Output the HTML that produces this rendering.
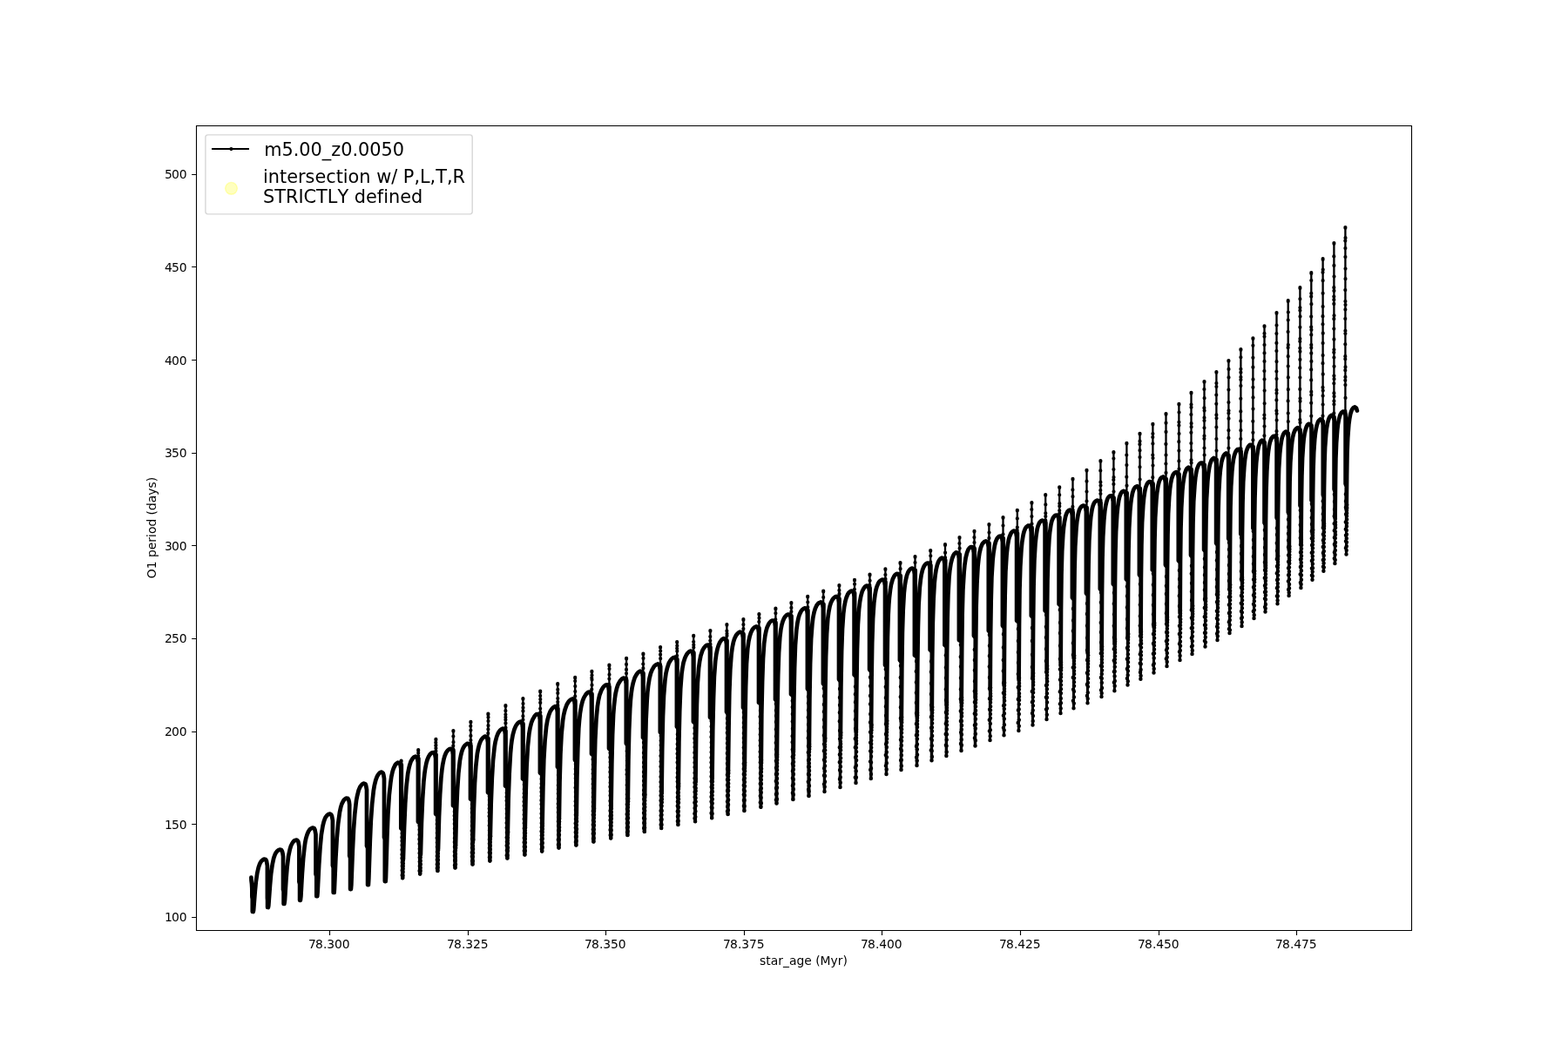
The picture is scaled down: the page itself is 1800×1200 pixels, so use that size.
<!DOCTYPE html>
<html lang="en"><head><meta charset="utf-8"><title>O1 period vs star_age</title>
<style>html,body{margin:0;padding:0;background:#fff;width:1800px;height:1200px;overflow:hidden}svg{display:block}</style>
</head><body>
<svg width="1800" height="1200" viewBox="0 0 1800 1200" role="img" aria-label="O1 period (days) versus star_age (Myr)">
<rect width="1800" height="1200" fill="#fff"/>
<g fill="none" stroke="#000" stroke-linejoin="round" stroke-linecap="round">
<path stroke-width="2.3" d="M460.6 881.5L460.6 873.6M480.2 874.6L480.2 861.1M500.4 869.9L500.4 848.9M520.4 865.6L520.4 839M540.4 859.6L540.4 828.9M560.4 851.5L560.4 819.6M580.4 842.5L580.4 810.1M600.4 834.6L600.4 802M620.2 825.6L620.2 793.6M640.2 817.1L640.2 785.1M660.2 808.4L660.2 777.9M679.4 800.3L679.4 770.9M699.4 792.1L699.4 763.6M719.1 784.4L719.1 755.9M738.4 776.5L738.4 750.6M758.1 768.4L758.1 743M777.2 760.6L777.2 737M796.2 753.4L796.2 729.9M815.4 746.5L815.4 724M834.4 739L834.4 717M853.4 731.5L853.4 711.1M871.4 725.3L871.4 705M890.4 718.3L890.4 698.6M908.4 711.3L908.4 692M927.2 704.3L927.2 684.9M945.2 697.4L945.2 678.6M963.4 690.9L963.4 672M981 684.4L981 665.8M998.5 678.4L998.5 659.6M1016.4 671.5L1016.4 653.3M1033.5 664.6L1033.5 646.1M1050.5 658.4L1050.5 639M1068.2 652.4L1068.2 632M1085 646.5L1085 625.2M1101.5 640.1L1101.5 617M1118.5 633.8L1118.5 609.9M1135.4 627.4L1135.4 602M1151.5 621.5L1151.5 594M1167.8 615.5L1167.8 585.8M1184.4 609.4L1184.4 577M1200.2 603.4L1200.2 568M1216.2 597.5L1216.2 559.3M1231.5 591.5L1231.5 549.9M1247.5 586.5L1247.5 539.9M1263.4 580.5L1263.4 529M1278.4 575L1278.4 519M1293.4 569.6L1293.4 508.9M1308.5 564.3L1308.5 497.8M1323.4 558.9L1323.4 486.8M1338.5 553.5L1338.5 475.1M1353.4 548.1L1353.4 463.9M1367.5 542.7L1367.5 450.9M1382.5 537.3L1382.5 438M1396.4 531.9L1396.4 427M1410.4 526.5L1410.4 414M1424.4 521.5L1424.4 401.1M1438.4 516.5L1438.4 388.3M1451.5 511.5L1451.5 374.3M1465.5 506.5L1465.5 359.1M1478.7 501.5L1478.7 345.2M1492.4 497.1L1492.4 330.2M1505.3 492.4L1505.3 313.2M1518.6 487.3L1518.6 297.2M1531.4 482.6L1531.4 279.1M1544.4 478.4L1544.4 261"/>
<path stroke-width="4.7" d="M288.4 1007.6L288.5 1011L289 1015L289.3 1020L289.4 1030M289.4 1030L289.8 1032.5L289.8 1047L290.7 1047M290.7 1047L291.1 1045L292.8 1023.3L293.8 1012.7L295.3 1002.5L296.7 996.3L298 992.5L298.8 990.7L299.9 989L301.4 987.6L303.1 986.6L305.1 987.1L306 988.9L306.9 994.2L306.9 1031.3L307.3 1032.8M306.9 1031.3L307.1 1033.8L307.1 1042L307.9 1042M307.9 1042L308.3 1039.8L310 1016.4L311.1 1003.7L312.6 993.1L314.3 985.1L315.7 981.3L316.6 979.4L317.8 977.8L319.3 976.4L321.1 975.6L323.1 976.1L324 977.9L324.5 979.8L325 983.3L325 1021.3L325.8 1022.8M325 1021.3L325.6 1023.8L325.6 1038L326.4 1038M326.4 1038L327 1033.7L328.4 1010.9L329.6 995.9L331.1 983.3L332.8 975.2L334 971.3L335.8 967.8L337 966.2L338.6 965L340.6 964.5L342.1 965.9L342.7 967.8L343.4 972.2L343.4 1012.6L344.3 1014.1M343.4 1012.6L344.1 1015.1L344.1 1033.8L344.9 1033.8M344.9 1033.8L345.4 1029.5L346.9 1002.8L348.2 985.2L349.6 972.3L350.5 966.2L351.4 962.1L352.6 958.2L354.2 954.5L355.4 952.8L356.8 951.5L358.7 950.6L360.6 951.1L361.5 952.9L362.5 958.3L362.5 1003.8L363.6 1005.3M362.5 1003.8L363.3 1006.3L363.3 1029.2L364.2 1029.2M364.2 1029.2L364.6 1024.8L366.2 993L367.5 973.4L368.9 958.4L370.6 948.1L371.6 944.1L372.9 940.2L373.8 938.4L375 936.8L376.5 935.4L378.3 934.5L380.2 935.3L381 937.2L381.9 942.2L381.9 993.8L382.9 995.3M381.9 993.8L382.7 996.3L382.7 1025L383.6 1025M383.6 1025L383.9 1020.9L385.4 985.3L386.7 962.8L388.2 945.6L389.9 933.1L391.2 926.9L392.4 923.1L394.3 919.4L395.6 917.9L397.3 916.7L399.3 916.9L400.3 918.7L400.8 920.8L401.2 924L401.2 982.6L402.3 984.1M401.2 982.6L402.1 985.1L402.1 1021.1L402.9 1021.1M402.9 1021L403.3 1016.3L404.8 976.9L406 952.1L407.3 934.4L409 919.4L410.2 913.3L411.7 907.4L413.3 903.7L414.5 902L415.8 900.5L417.6 899.5L419.5 900.4L420.2 902.3L421 907L421 971.3L422.3 972.8M421 971.3L422.1 973.8L422.1 1016.1L422.9 1016.1M422.9 1016L423.3 1009.4L424.8 965.5L425.8 942.7L427.2 922.9L428.8 908L429.8 902L431.3 895.9L432.7 892.1L433.6 890.3L434.8 888.6L436.2 887.2L438.1 886.5L439.7 887.8L440.3 889.7L441 894L441 961.3L442.1 962.8M441 961.3L441.8 963.8L441.8 1012.1L442.7 1012.1M442.7 1012L443 1007L444.4 960.4L445.4 935.2L446.8 913L448.4 898.3L449.3 892L450.6 886L451.9 882.1L453.7 878.4L455 876.9L456.7 875.7L458.6 876.1L459.5 878L460.3 882.7L460.3 951.3L462.1 952.8M460.8 878L460.8 951.3M462.9 987L464 951.2L465.2 923.1L466.5 903.2L468.2 888.3L469.4 882.1L470.4 878.2L471.7 874.3L472.7 872.6L473.8 870.9L475.2 869.5L477.1 868.7L478.7 869.9L479.3 871.8L479.9 875.7L479.9 943.8L482.1 945.3M480.4 871.1L480.4 943.8M482.9 981.2L483.9 945.1L485.1 917.3L486.4 897.5L487.3 888.9L488.2 882.5L489.4 876.4L490.5 872.5L492.1 868.7L493.2 866.9L494.5 865.4L496.1 864.3L498.1 864.1L499.2 865.9L500.1 870.9L500.1 934.8L502.2 936.3M500.5 866.4L500.6 934.8M503 974.9L504 938.6L505.1 912.9L506.4 893L507.3 884.4L508.2 878.1L509.4 872.1L510.5 868.2L512 864.5L513.1 862.8L514.4 861.3L516 860.1L518 859.8L519.2 861.4L519.6 863.4L520 866.5L520 925.1L522.3 926.6M520.5 862.1L520.6 925.1M523 971.6L523.9 934.4L525 908.2L526.3 888.3L527.9 873.7L529 867.6L530 863.6L531.3 859.8L532.3 857.9L533.4 856.3L534.9 854.9L536.6 853.8L538.6 854.2L539.4 856.2L540 860.5L540 917.6L542.3 919.1M540.5 856.1L540.6 917.6M543 965.9L543.9 928.9L545 899.7L546.3 879.9L547.9 865.3L549.1 859.3L550.1 855.3L551.5 851.5L552.4 849.7L553.6 848.1L555 846.7L556.8 845.6L558.7 846.2L559.4 848.1L560 852.3L560 910.1L562.2 911.6M560.5 848L560.6 910.1M562.8 961.4L563.7 922.6L564.8 893.6L566 873.2L567.6 858.4L568.6 852.1L570.2 846L571.7 842.2L572.7 840.4L573.9 838.8L575.4 837.5L577.2 836.5L578.9 837.5L579.5 839.6L580 843.3L580 902.6L582.2 904.1M580.5 839L580.6 902.6M582.8 957.7L583.6 918.3L584.7 887.8L586 865L586.8 856.2L587.6 850L588.7 843.9L590.3 838L591.9 834.2L592.9 832.4L594.1 830.8L595.6 829.5L597.5 828.7L599 829.9L599.6 832L600 835.4L600 894.4L602.2 895.9M600.5 831.1L600.6 894.4M602.8 949.5L603.7 908.5L604.6 879.8L605.9 857.1L607.4 842.3L608.5 836L610 830L611.4 826.3L613.4 822.8L614.7 821.2L616.3 820L618.4 820L619.2 821.9L619.9 826.3L619.9 887.6L622 889.1M620.4 822.1L620.5 887.6M622.6 946.6L623.4 903.7L624.3 872.3L625.6 849.9L627.1 834.9L628.5 826.7L630.1 820.8L631.6 817L632.7 815.3L633.9 813.6L635.3 812.2L637 811.2L638.8 812.2L639.4 814.2L639.9 817.8L639.9 880.7L641.3 882.2M640.4 813.6L640.5 880.7M641.9 940.5L642.5 898.6L643.4 865.9L644.6 842.7L646.1 827.4L647.1 821L648.5 815.1L650.6 809.3L652.7 805.8L654 804.3L655.6 803.1L657.5 802.4L658.9 803.9L659.5 805.9L659.9 809.1L659.9 872.6L661.2 874.1M660.4 804.9L660.5 872.6M661.8 936.7L662.4 892.3L663.3 859.1L664.3 836.4L665 827.7L665.9 819.2L667.3 810.8L668.8 804.9L670.3 801.1L672.4 797.6L673.7 796.1L675.3 794.8L677.3 794.5L678.3 796.3L679 800.9L679 865.7L681.2 867.2M679.5 796.8L679.6 865.7M681.8 931.1L682.5 881.8L683.3 849.1L684.5 825.9L685.9 810.8L686.9 804.5L688.2 798.4L690.3 792.8L692.4 789.3L693.7 787.8L695.3 786.6L697.3 786.4L698.3 788.2L699 792.8L699 859.5L701 861M699.5 788.6L699.6 859.5M701.6 925.7L702.3 877.9L703.1 843.9L704.1 820.6L704.8 811.6L705.7 802.9L706.6 796.6L708 790.5L709.3 786.6L710.2 784.7L712.3 781.3L713.7 779.8L715.4 778.7L717.3 778.9L718.1 780.9L718.8 785L718.8 853.8L720.2 855.3M719.2 780.9L719.3 853.8M720.8 920.5L721.4 872.6L722.2 838L723.2 814.1L723.8 805L724.6 796.6L725.5 790.3L726.8 784.2L728.6 778.4L730.5 774.8L731.7 773.1L733.1 771.7L734.8 770.7L736.8 771.3L737.5 773.2L738 777.2L738 846.9L739.5 848.4M738.5 773L738.6 846.9M740.1 914.5L740.8 864.7L741.6 827.5L742.7 804.3L743.3 795.6L744.2 787.3L745.5 779.1L747 773.1L748.5 769.3L750.5 765.8L751.8 764.3L753.4 763.1L755.3 762.4L756.8 763.8L757.3 765.9L757.8 769.2L757.8 840.7L759 842.2M758.2 764.9L758.3 840.7M759.6 909.7L760.2 860.6L761 822.7L762 798.7L763.4 781.5L764.5 773.3L765.9 767.2L767.8 761.5L769.9 758L771.2 756.5L772.8 755.2L774.7 754.7L776 756.2L776.5 758.3L776.9 761.4L776.9 834.4L778.2 835.9M777.4 757.1L777.5 834.4M778.8 904.6L779.4 852.5L780.2 816.7L781.2 790.8L782.5 773.7L783.4 767.4L784.5 761.3L786.3 755.5L788.1 751.8L789.2 750.2L790.6 748.8L792.3 747.7L794.4 747.8L795.2 749.7L795.9 754.2L795.9 828.8L797.9 830.3M796.4 749.9L796.5 828.8M798.5 897.5L799.1 847.8L799.9 809.3L800.8 784.8L802.1 767.3L803.2 759.2L804.4 753L806.3 747.2L808.3 743.7L809.6 742.2L811.3 740.9L813.3 740.7L814.3 742.5L815 747.2L815 823.8L817 825.3M815.5 743L815.6 823.8M817.6 892.2L818.2 839.5L819 803.1L819.9 776.7L821.2 759.3L822.3 751.2L823.6 745.1L824.8 741.1L826.4 737.5L827.6 735.8L828.9 734.3L830.6 733.2L832.6 733.6L833.4 735.4L834 739.8L834 817.6L835.4 819.1M834.5 735.5L834.6 817.6M835.9 888L836.6 833.6L837.3 795L838.3 769L839.6 751.6L840.7 743.3L842 737.1L843.2 733.2L845 729.6L846.3 728L847.7 726.6L849.5 725.7L851.5 726L852.3 727.9L853 732.5L853 812.6L854.2 814.1M853.5 728L853.6 812.6M854.8 881.2L855.4 826.1L856.1 788.6L857 762.4L858.3 744.7L859.4 736.5L860.7 730.6L861.9 726.7L863.7 723L864.9 721.5L866.4 720.1L868.3 719.3L869.9 720.5L870.5 722.5L871 726.2L871 806.9L873.2 808.4M871.5 721.8L871.6 806.9M873.8 875.4L874.3 821.1L875.1 782.4L876 756.3L877.2 738.7L878.3 730.3L879.5 724.3L880.6 720.4L882.3 716.7L883.4 715L884.8 713.5L886.5 712.5L888.5 712.8L889.4 714.7L890 719.2L890 803.2L891.3 804.7M890.5 714.8L890.6 803.2M891.9 869.7L892.4 814.3L893.2 775.4L894.1 749.3L895.3 731.8L896.3 723.4L897.5 717.4L898.6 713.5L900.2 709.8L901.3 708.1L902.7 706.6L904.4 705.6L906.4 705.7L907.3 707.5L908 712.2L908 797.2L910.2 798.7M908.5 707.8L908.6 797.2M910.8 863.6L911.3 807.2L912.1 767L913 741L914.3 723.6L915.4 715.5L916.6 709.5L917.8 705.6L919.6 701.9L920.8 700.3L922.4 699L924.3 698.3L925.8 699.6L926.4 701.5L926.9 705.2L926.9 791.1L928.3 792.6M927.4 700.8L927.5 791.1M928.9 858L929.4 802.6L930.1 762.3L931.1 734.1L932.4 716.8L933.4 708.7L934.7 702.6L935.9 698.7L937.6 695L938.9 693.4L940.4 692.1L942.3 691.4L943.8 692.7L944.4 694.6L944.9 698.3L944.9 785.1L946.3 786.6M945.4 693.9L945.5 785.1M946.9 851L947.4 794.6L948.1 754.3L949.1 727.7L950.3 710.3L951.4 702.2L952.6 696.1L953.8 692.2L955.6 688.6L956.8 687L958.3 685.7L960.1 684.9L961.9 686L962.5 687.9L963 691.9L963 780.1L964.3 781.6M963.5 687.4L963.6 780.1M964.9 845.6L965.4 788.8L966.1 748.4L967 722.4L968.2 704.8L969.2 696.5L970.4 690.5L971.5 686.5L973 682.8L974.1 681L975.5 679.6L977.3 678.6L979.2 679L980 681L980.6 685.3L980.6 775.1L982.3 776.6M981.1 680.9L981.2 775.1M982.8 840.3L983.4 783.5L984 745.4L984.9 717.1L986.1 699.4L987.1 691L988.2 684.8L989.8 679L991.7 675.4L993 673.8L994.6 672.7L996.6 672.9L997.4 674.8L998.1 679.3L998.1 768.8L999.5 770.3M998.6 674.9L998.7 768.8M1000.1 835.3L1000.6 777.3L1001.2 738.6L1002.1 710L1003.3 692.3L1004.4 683.7L1005.5 677.5L1006.6 673.6L1008.2 669.8L1009.2 668.2L1010.7 666.7L1012.4 665.7L1014.4 665.9L1015.3 667.8L1016 672.5L1016 763.8L1017.3 765.3M1016.5 668L1016.6 763.8M1017.8 831.3L1018.3 773.4L1018.9 732L1019.7 705.9L1020.3 694.6L1021 685.9L1022 677.4L1023 671.3L1024.7 665.3L1026.4 661.7L1027.7 660.1L1029.3 658.9L1031.3 659.1L1032.2 660.9L1032.9 665.5L1032.9 758.2L1034.3 759.7M1033.7 661.1L1033.7 758.2M1034.8 828.4L1035.3 767.9L1035.9 726.8L1036.7 700.6L1037.8 681L1038.7 672.5L1039.7 666.4L1041.1 660.5L1042.6 656.7L1043.7 655L1045 653.5L1046.8 652.5L1048.6 653.3L1049.3 655.2L1049.9 659.3L1049.9 752.6L1052.3 754.1M1050.7 654.9L1050.7 752.6M1052.8 822.5L1053.3 761.5L1053.9 720.6L1054.6 694.6L1055.8 675.1L1056.7 666.7L1057.6 660.5L1059 654.5L1060.5 650.7L1061.5 649L1062.8 647.5L1064.6 646.5L1066.4 647.3L1067.1 649.3L1067.6 653.3L1067.6 746.3L1069.3 747.8M1068.4 648.9L1068.5 746.3M1069.8 815.8L1070.2 756.9L1070.8 715.2L1071.6 689.1L1072.7 669.5L1073.6 661L1074.5 654.8L1075.9 648.7L1077.3 644.9L1078.3 643.2L1079.6 641.6L1081.3 640.6L1083.2 641.4L1083.8 643.3L1084.4 647.4L1084.4 740.7L1086.2 742.2M1085.2 643L1085.2 740.7M1086.7 809.8L1087.1 750.7L1087.7 709L1088.4 683.1L1089.5 663.6L1090.3 655.2L1091.6 647L1093.1 641L1094.7 637.3L1095.8 635.7L1097.4 634.4L1099.4 634.7L1100.2 636.6L1100.9 641L1100.9 735.1L1103.3 736.6M1101.7 636.6L1101.7 735.1M1103.7 806.7L1104.2 745L1104.7 703.8L1105.4 677.3L1106.6 657.5L1107.4 649L1108.6 640.6L1110.1 634.6L1111.6 630.9L1112.8 629.3L1114.4 628L1116.4 628.3L1117.2 630.2L1117.9 634.6L1117.9 730.1L1119.3 731.6M1118.7 630.3L1118.7 730.1M1119.7 801.2L1120.2 737.6L1120.7 696L1121.5 669.8L1122.6 649.9L1123.5 641.4L1124.4 635.1L1125.8 629.1L1127.3 625.3L1128.4 623.6L1129.9 622.2L1131.7 621.4L1133.5 622.3L1134.2 624.3L1134.8 628.5L1134.8 724.3L1136.3 725.8M1135.6 623.9L1135.6 724.3M1136.7 790.7L1137.1 730.2L1137.7 689.1L1138.4 662.9L1139.6 643.2L1140.5 634.8L1141.8 626.6L1142.8 622.6L1144.3 618.9L1145.5 617.2L1147 615.9L1149 615.7L1150.1 617.5L1150.9 622.5L1150.9 718.6L1152.3 720.1M1151.7 618L1151.7 718.6M1152.7 787L1153.1 723.1L1153.7 682.7L1154.4 656.4L1155.6 636.7L1156.5 628.2L1157.8 620.1L1158.9 616.2L1160.5 612.5L1161.7 610.9L1163.4 609.7L1165.4 609.9L1166.3 611.7L1167.1 616.6L1167.1 712.8L1169.2 714.3M1167.9 612L1168 712.8M1169.6 780L1170 718.3L1170.5 677.1L1171.3 650.7L1172.5 630.9L1173.3 622.5L1174.6 614.3L1175.6 610.4L1177.1 606.6L1178.3 605L1179.9 603.7L1181.9 603.6L1182.9 605.4L1183.8 610.5L1183.8 707.1L1185.3 708.6M1184.6 605.9L1184.6 707.1M1185.7 777.6L1186.1 712.9L1186.6 672.4L1187.4 643.7L1188.5 624.5L1189.4 616L1190.6 607.9L1191.6 604L1193.2 600.3L1194.5 598.7L1196.1 597.6L1198.1 598L1198.9 599.8L1199.6 604.5L1199.6 701.3L1201.3 702.8M1200.4 599.9L1200.5 701.3M1201.7 768.9L1202 706.5L1202.5 665.6L1203.3 639L1204.4 619.3L1205.2 610.9L1206.4 602.7L1207.3 598.7L1208.8 594.9L1209.9 593.2L1211.4 591.9L1213.4 591.6L1214.7 593.2L1215.2 595.2L1215.6 598.6L1215.6 693.8L1217.3 695.3M1216.4 594L1216.5 693.8M1217.7 764.4L1218 700.5L1218.5 659.5L1219.2 633.2L1220.3 613.8L1221.1 605.3L1222 599L1223.2 593.1L1224.5 589.3L1225.5 587.5L1226.9 586.1L1228.8 585.6L1230 587.3L1230.5 589.3L1230.9 592.5L1230.9 686.3L1232.3 687.8M1231.7 588L1231.7 686.3M1232.7 755.7L1233.1 693.4L1233.6 653L1234.3 627L1235.5 607.3L1236.3 598.9L1237.6 590.8L1238.6 586.9L1239.3 584.9L1240.3 583.1L1241.6 581.6L1243.4 580.6L1245.3 581.1L1246.2 583L1246.9 587.7L1246.9 681.3L1248.3 682.8M1247.7 583L1247.7 681.3M1248.7 750L1249 687.9L1249.6 647.4L1250.3 621.2L1251.5 601.5L1252.3 593.1L1253.6 584.9L1254.6 581L1255.3 579.1L1256.2 577.3L1257.5 575.7L1259.2 574.6L1261.2 575L1262 576.9L1262.8 581.7L1262.8 676.3L1264.3 677.8M1263.6 577L1263.6 676.3M1264.7 746.5L1265 683.4L1265.5 642.7L1266.2 616.6L1267.3 597.2L1268.3 586.7L1269.3 580.5L1270.2 576.4L1271.5 572.6L1272.5 570.9L1274 569.5L1276 569.2L1277 571L1277.8 575.9L1277.8 670.7L1279.2 672.2M1278.6 571.5L1278.6 670.7M1279.6 739.6L1279.9 676.8L1280.4 636.5L1281.1 610.6L1282.3 590.9L1283.1 582.5L1284.3 574.4L1285.2 570.4L1286.7 566.6L1287.9 565L1289.5 563.8L1291.5 564.4L1292.2 566.3L1292.8 570.6L1292.8 665.1L1294.3 666.6M1293.6 566.1L1293.6 665.1M1294.7 733.1L1295 673.4L1295.5 633.1L1296.2 606.6L1297.3 586.7L1298.1 578.2L1298.9 572L1300.1 566L1301.4 562.1L1302.4 560.4L1303.8 558.9L1305.7 558.3L1307 559.9L1307.5 561.9L1307.9 565.2L1307.9 660.1L1309.2 661.6M1308.7 560.8L1308.7 660.1M1309.6 726.8L1309.9 664.7L1310.4 626.1L1311.1 599.8L1312.3 580.1L1313.1 571.7L1314.3 563.6L1315.2 559.7L1316.7 555.9L1317.9 554.2L1319.5 553L1321.4 553.6L1322.2 555.5L1322.8 559.8L1322.8 654.4L1324.3 655.9M1323.6 555.4L1323.6 654.4M1324.7 719.9L1325 658.3L1325.5 620L1326.2 594L1327.4 574.4L1328.2 565.8L1329.5 557.6L1330.5 553.6L1331.2 551.7L1332.1 549.9L1333.4 548.4L1335.2 547.5L1336.8 548.7L1337.4 550.7L1337.9 554.5L1337.9 648.8L1339.3 650.3M1338.7 550L1338.7 648.8M1339.7 713.4L1340 652.5L1340.5 614.4L1341.1 590.2L1342.2 570.4L1343 562L1343.8 555.7L1345 549.7L1346.3 545.9L1347.3 544.1L1348.7 542.7L1350.7 542.1L1351.9 543.8L1352.4 545.9L1352.8 549L1352.8 643.8L1354.3 645.3M1353.6 544.6L1353.6 643.8M1354.7 704.1L1355 644.8L1355.5 606.9L1356.2 583.4L1357.3 563.9L1358.1 555.5L1359.3 547.4L1360.2 543.4L1361.6 539.6L1362.7 537.9L1364.3 536.7L1366 537.9L1366.5 539.9L1367 543.4L1367 637.6L1368.3 639.1M1367.7 539.2L1367.7 637.6M1368.7 699.1L1369 638.7L1369.5 600.3L1370.2 576.2L1371.5 556.7L1372.3 548.4L1373.3 542.3L1374.2 538.3L1375.7 534.5L1376.8 532.9L1378.4 531.6L1380.4 531.6L1381.3 533.5L1382.1 538.3L1382.1 631.3L1383.3 632.8M1382.7 533.8L1382.7 631.3M1383.7 689.6L1384 633.8L1384.5 596.5L1385.1 572.5L1386.3 552.9L1387.1 544.5L1388.3 536.4L1389.2 532.5L1390.6 528.7L1391.8 527.1L1393.4 525.9L1395 527.1L1395.6 529.1L1396.1 532.7L1396.1 623.8L1397.3 625.3M1396.6 528.4L1396.6 623.8M1397.7 682.1L1398.1 624.4L1398.5 588.9L1399.2 565.2L1400.2 547.5L1401 539.1L1402.2 531L1403.2 527.1L1404.6 523.3L1405.8 521.7L1407.5 520.5L1409.1 521.7L1409.7 523.7L1410.2 527.3L1410.2 618.5L1411.3 620M1410.6 523L1410.6 618.5M1411.7 674.6L1412.1 617.6L1412.5 582.6L1413.2 558.9L1414.3 541.6L1415.1 533.3L1416 527.2L1416.9 523.2L1418.2 519.3L1419.2 517.5L1420.5 516L1422.5 515.7L1423.5 517.5L1424.3 522.4L1424.3 613.2L1425.3 614.7M1424.6 518L1424.6 613.2M1425.7 666.9L1426 612.9L1426.5 577.3L1427.2 553.4L1428.3 536.3L1429.1 528L1430 521.8L1430.9 517.8L1432.3 514.1L1433.3 512.3L1434.7 510.9L1436.7 510.8L1437.6 512.6L1438.4 517.4L1438.4 606.6L1439.3 608.1M1438.6 513L1438.6 606.6M1439.7 657.5L1440 605.4L1440.5 572.2L1441.2 548.6L1442.2 531.2L1443.1 522.8L1444 516.7L1444.8 512.7L1446.2 508.8L1447.2 507L1448.6 505.7L1450.5 506.5L1451 508.6L1451.5 512.1L1451.5 600.5L1452.3 602M1451.7 508L1451.7 600.5M1452.7 651.5L1453 599L1453.5 564.6L1454.3 541.2L1455.4 523.9L1456.1 517.8L1457 511.7L1457.9 507.7L1459.3 503.9L1460.4 502.2L1461.9 500.8L1463.9 500.9L1464.8 502.7L1465.6 507.5L1465.6 594.4L1466.3 595.9M1465.7 503L1465.7 594.4M1466.7 641.4L1467 592.9L1467.5 559.9L1468.1 538.2L1469.2 520.7L1470.1 512.3L1471 506.3L1471.9 502.3L1473.3 498.5L1474.4 496.8L1476 495.6L1477.7 496.6L1478.3 498.6L1478.8 502.2L1478.8 588.2L1479.4 589.7M1478.9 498L1478.9 588.2M1479.8 631.4L1480.2 583.5L1480.6 552.7L1481.3 531.2L1482.5 514.2L1483.2 507.7L1484.1 501.7L1485.1 497.7L1486.6 494L1487.8 492.4L1489.5 491.2L1491.3 492.1L1491.9 494L1492.5 498.1L1492.5 580.5L1493.2 582M1492.6 493.6L1492.6 580.5M1493.6 622.4L1493.9 578.2L1494.4 546.7L1495.1 525.5L1496.1 510.6L1496.7 504.1L1497.6 497.9L1498.5 493.9L1499.8 490L1500.7 488.2L1502.1 486.8L1504.1 487L1504.9 488.9L1505.5 493.1L1505.5 574.4L1506.3 575.9M1505.5 488.9L1505.5 574.4M1506.7 613.6L1507.1 568.2L1507.5 540.4L1508.2 519.4L1509.2 504.5L1509.9 498.2L1510.8 492.2L1511.7 488.2L1513.1 484.4L1514.2 482.7L1515.8 481.4L1517.7 482.3L1518.3 484.2L1518.8 488.1L1518.8 568.2L1519.2 569.7M1518.8 483.8L1518.8 568.2M1519.6 605.3L1520 561.3L1520.5 531.6L1521.1 513.7L1522.2 498.4L1522.9 492L1524 485.8L1525.1 481.9L1525.8 480L1526.8 478.3L1528.3 476.9L1530.3 477.2L1531 479.1L1531.7 483.4L1531.7 562.1L1532.2 563.6M1531.6 479.1L1531.6 562.1M1532.6 594.3L1533 553.1L1533.4 526.7L1534.1 508.9L1535.2 493.8L1535.9 487.5L1537 481.5L1538.1 477.5L1538.8 475.7L1539.9 474L1541.4 472.6L1543.4 473.1L1544.1 475.1L1544.7 479.2L1544.7 555.8L1545.3 557.3M1544.6 474.9L1544.6 555.8M1545.7 585L1546.1 546.7L1546.5 520.4L1547.2 502.8L1548.3 487.8L1549.1 481.7L1550.2 475.6L1551.4 471.7L1552.3 469.9L1553.5 468.3L1555.3 467.4L1557 468.6L1557.9 471.6"/>
<path stroke-width="3.0" d="M1136.2 725.8L1136.5 849.9M1152.2 720.1L1152.5 844.2M1169.1 714.3L1169.4 838.9M1185.2 708.6L1185.5 832.4M1201.2 702.8L1201.5 826.1M1217.2 695.3L1217.5 818.9M1232.2 687.8L1232.5 813.2M1248.2 682.8L1248.5 807.2M1264.2 677.8L1264.5 800.1M1279.1 672.2L1279.4 793.2M1294.2 666.6L1294.5 786.4M1309.1 661.6L1309.4 779.7M1324.2 655.9L1324.5 772.4M1339.2 650.3L1339.5 765.1M1354.2 645.3L1354.5 757.9M1368.2 639.1L1368.5 751M1383.2 632.8L1383.5 742.6M1397.2 625.3L1397.5 734.9M1411.2 620L1411.5 727M1425.2 614.7L1425.5 718.9M1439.2 608.1L1439.5 710.1M1452.2 602L1452.5 702.4M1466.2 595.9L1466.5 693.2M1479.3 589.7L1479.6 683.9M1493.1 582L1493.4 674.9M1506.2 575.9L1506.5 665.7M1519.1 569.7L1519.4 655.7M1532.1 563.6L1532.4 647M1545.2 557.3L1545.5 636.4"/>
<path stroke-width="3.4" d="M946.2 786.6L946.5 908.9M964.2 781.6L964.5 904.1M982.2 776.6L982.5 898.9M999.5 770.3L999.8 893.9M1017.2 765.3L1017.5 889.1M1034.2 759.7L1034.5 883.9M1052.2 754.1L1052.5 879.1M1069.2 747.8L1069.5 873.2M1086.1 742.2L1086.4 868M1103.2 736.6L1103.5 862M1119.2 731.6L1119.5 856.4"/>
<path stroke-width="3.9" d="M759 842.2L759.2 951M778.1 835.9L778.4 947M797.8 830.3L798.1 943.2M817 825.3L817.2 939.2M835.3 819.1L835.6 934.9M854.1 814.1L854.4 930.9M873.1 808.4L873.4 926.7M891.2 804.7L891.5 922.4M910.1 798.7L910.4 917.9M928.2 792.6L928.5 913.9"/>
<path stroke-width="4.3" d="M461.9 952.8L462.2 1008.2M481.9 945.3L482.2 1003.6M502.1 936.3L502.4 999.9M522.2 926.6L522.5 996.4M542.2 919.1L542.5 992.4M562.1 911.6L562.4 988.5M582.1 904.1L582.4 985.4M602.1 895.9L602.4 981.4M622 889.1L622.2 977.6M641.2 882.2L641.5 973.5M661.1 874.1L661.4 970.4M681.1 867.2L681.4 966.4M701 861L701.2 962.4M720.1 855.3L720.4 958.9M739.5 848.4L739.8 954.9"/>
<path stroke-width="4.5" d="M462.2 1008.2h0M462.4 1005.4h0M462.5 1001.3h0M462.6 997.6h0M462.7 994.5h0M462.8 991.5h0M462.7 988.6h0M462.9 985.5h0M461.7 1005.1h0M461.7 999.5h0M461.8 994.6h0M461.8 990.3h0M461.6 985.6h0M461.6 981.2h0M461.6 975.7h0M461.7 970.6h0M461.7 965.8h0M461.6 961.4h0M461.8 956.9h0M482.2 1003.6h0M482.6 1000.1h0M482.6 996.4h0M482.8 992.5h0M482.7 988.5h0M482.7 984.5h0M482.9 981.3h0M481.6 999.9h0M481.8 994.6h0M481.8 989.5h0M481.8 984.8h0M481.7 979.7h0M481.8 974.7h0M481.7 969.1h0M481.6 963.8h0M481.7 958.5h0M481.8 952.8h0M481.7 948.1h0M502.4 999.9h0M502.6 996.1h0M502.8 992h0M502.9 987.5h0M502.8 983.4h0M502.9 980h0M503.1 976.3h0M501.8 997h0M501.8 992.4h0M501.8 987.2h0M501.8 983h0M501.9 978.2h0M501.9 972.5h0M501.9 967.5h0M501.7 962.2h0M501.9 956.6h0M501.9 951h0M501.8 946.2h0M501.9 941.8h0M522.5 996.4h0M523 992.4h0M522.9 988.1h0M522.8 984.5h0M522.9 980.8h0M522.9 976.7h0M523.2 973.8h0M523 970.5h0M522 993.8h0M522.1 988.1h0M521.9 982.8h0M521.9 978h0M522 972.6h0M521.9 967.1h0M522 962.6h0M522.1 956.8h0M522 951.4h0M521.9 946h0M521.9 941h0M521.8 936.7h0M521.9 932h0M542.5 992.4h0M542.8 988.8h0M542.7 983.8h0M543.1 979.3h0M543.1 975h0M542.9 971.4h0M543 967.6h0M543.2 964.1h0M542.1 988.8h0M541.9 983.5h0M541.8 979.1h0M542 973.5h0M542 969h0M542 963.3h0M542 958.5h0M541.8 954h0M542 948.3h0M542.1 943.3h0M542.1 938.4h0M541.9 932.9h0M541.9 928.3h0M542 923.7h0M562.4 988.5h0M562.6 984.3h0M562.8 979.6h0M562.8 975.2h0M562.9 971.1h0M562.8 967h0M562.9 963.4h0M563.1 960.3h0M561.9 984.6h0M561.8 979h0M561.9 973.8h0M561.9 968.8h0M561.9 963.9h0M562 958.9h0M562 953.6h0M561.8 947.9h0M562 942.8h0M561.7 937.3h0M561.8 932.9h0M561.8 928.5h0M561.9 924.2h0M562 918.8h0M561.9 914.3h0M582.4 985.4h0M582.6 982.2h0M582.8 977.1h0M583 973.2h0M583 968.6h0M582.8 965.1h0M583 961.9h0M582.9 958.7h0M583.1 955.5h0M581.7 982.2h0M581.9 976.5h0M581.7 971.1h0M581.9 966.7h0M581.7 961.7h0M581.9 956h0M581.7 950.5h0M581.7 944.9h0M581.8 939.3h0M581.9 934.4h0M581.8 928.7h0M581.9 924.2h0M581.7 919.5h0M581.7 915h0M581.8 910.4h0M602.4 981.4h0M602.8 977.1h0M602.9 972.4h0M602.9 967.5h0M602.8 963.3h0M602.8 959.9h0M603 956.7h0M602.9 953.5h0M603.1 950.6h0M601.8 977.1h0M601.8 972.3h0M601.7 967.3h0M601.8 962.2h0M602 956.4h0M601.8 951.2h0M601.8 945.3h0M601.7 940.4h0M601.8 935.4h0M601.8 930.3h0M601.7 925.2h0M601.7 920.4h0M601.7 915.4h0M601.8 911h0M601.9 906.3h0M601.9 901.1h0M622.2 977.6h0M622.7 973.1h0M622.7 967.9h0M622.7 962.9h0M622.6 959h0M622.7 955.4h0M622.9 952.1h0M622.9 948.5h0M622.9 945.2h0M621.8 975h0M621.7 969.4h0M621.7 964.1h0M621.8 959.6h0M621.6 954.8h0M621.8 950h0M621.8 945.2h0M621.7 939.3h0M621.7 934.3h0M621.8 928.8h0M621.7 923.4h0M621.6 918.9h0M621.8 914.1h0M621.7 909.2h0M621.6 904.7h0M621.8 899.9h0M621.8 894.4h0M641.5 973.5h0M641.8 969.9h0M641.7 964h0M641.9 958.7h0M642 953.8h0M642.1 950.1h0M641.9 946.3h0M642.1 943.4h0M642 940.2h0M640.9 970h0M640.8 964.2h0M641.1 958.5h0M641.1 953.8h0M641.1 948.2h0M640.9 943.3h0M641.1 938.2h0M640.9 932.8h0M640.9 927.6h0M640.8 923.1h0M640.9 917.3h0M640.9 911.3h0M641 906.4h0M640.9 901.7h0M641.1 895.7h0M641 889.9h0M661.4 970.4h0M661.6 965.8h0M661.7 960.4h0M661.7 956h0M662 951.9h0M661.8 947.6h0M662.1 943.2h0M661.9 939.7h0M661.9 936.7h0M661.9 933.7h0M660.9 967h0M660.9 961h0M660.8 955.8h0M660.8 950.5h0M660.7 945.4h0M661 940.4h0M660.9 935.7h0M661 930.1h0M660.8 925.3h0M660.8 920.3h0M661 915.1h0M661 909.2h0M660.7 904.6h0M661 899h0M660.9 893.7h0M660.8 889.1h0M660.9 883.1h0M661 877.2h0M681.4 966.4h0M681.6 962.6h0M681.8 956.9h0M681.7 952.4h0M681.9 947.7h0M681.8 943.5h0M681.8 939.3h0M682 935.8h0M682 931.9h0M682 928.3h0M681 963h0M680.8 957.3h0M680.8 952.6h0M680.8 946.9h0M680.9 941.9h0M680.8 935.8h0M680.8 931.2h0M680.9 925.9h0M680.9 921h0M680.9 915.2h0M681 910.3h0M680.9 905.2h0M680.8 900.3h0M680.8 894.4h0M680.8 888.3h0M680.8 883.4h0M680.9 878.1h0M680.7 872h0M701.2 962.4h0M701.6 958.7h0M701.6 953.3h0M701.5 948.3h0M701.6 944.2h0M701.9 939.9h0M701.9 936.2h0M701.8 932.6h0M701.9 928.6h0M701.7 925.4h0M701.8 922.2h0M700.7 959.1h0M700.6 953h0M700.8 947.7h0M700.6 941.7h0M700.6 937h0M700.6 930.9h0M700.8 925h0M700.6 919.8h0M700.7 913.6h0M700.8 908.5h0M700.6 903.4h0M700.8 898.7h0M700.7 892.6h0M700.6 886.4h0M700.7 881.3h0M700.8 875.1h0M700.6 869.8h0M700.7 864.5h0M720.4 958.9h0M720.6 954.8h0M720.8 949.8h0M720.9 944.7h0M721 939.2h0M720.8 935h0M720.9 931.3h0M720.9 927.1h0M721 923.8h0M721.1 920.4h0M721.1 916.9h0M720 955.7h0M719.9 950.6h0M719.9 945.2h0M719.8 940.2h0M719.7 935.1h0M719.9 928.9h0M719.8 923.7h0M719.9 917.3h0M719.9 912.2h0M720 906.4h0M719.8 901.6h0M720 895.5h0M719.7 889.3h0M719.7 884.1h0M720 879.1h0M720 873.4h0M720 868.1h0M719.8 862.6h0M739.8 954.9h0M740.1 950.6h0M740 945.3h0M740.2 940.3h0M740 935.2h0M740.2 931.1h0M740.3 926.7h0M740.2 923.2h0M740.3 919.2h0M740.3 916h0M740.3 912.4h0M739.2 951.1h0M739.3 944.9h0M739.1 939.5h0M739.1 933.5h0M739.3 928.8h0M739.3 923.3h0M739.3 917.8h0M739.1 912.3h0M739.2 907.5h0M739.3 901.7h0M739.2 896.8h0M739.2 891.4h0M739.1 886.4h0M739.3 880.8h0M739.2 875.8h0M739.3 869.7h0M739.1 864.6h0M739.3 858.3h0M739.1 852.7h0M759.2 951h0M759.5 946.9h0M759.6 941h0M759.5 935.7h0M759.7 930.9h0M759.6 925.6h0M759.8 921.2h0M759.9 917.7h0M759.8 914.4h0M759.9 910.9h0M759.8 907.9h0M758.7 947h0M758.7 941.4h0M758.7 936.5h0M758.6 930.9h0M758.8 924.8h0M758.6 919.2h0M758.6 913.5h0M758.7 908.5h0M758.7 903.5h0M758.6 897.9h0M758.6 892h0M758.8 885.9h0M758.6 880.2h0M758.7 874.5h0M758.6 868.1h0M758.8 861.8h0M758.8 855.8h0M758.8 850.6h0M758.8 845h0M778.4 947h0M778.6 942.7h0M778.7 936.6h0M778.7 931.7h0M778.9 927h0M779 921.8h0M779 917.8h0M778.9 914.1h0M778.9 910h0M779 906.1h0M779.1 902.8h0M779.1 899.9h0M777.9 943h0M778 937.7h0M777.8 931.8h0M777.8 925.6h0M777.9 920.4h0M777.9 915.5h0M777.9 910.2h0M777.9 903.6h0M777.8 897.6h0M777.7 892.7h0M777.9 887.6h0M777.9 882h0M777.7 875.6h0M777.9 870.3h0M777.7 865.4h0M777.7 859.9h0M777.8 854.4h0M777.9 848.5h0M777.9 843.3h0M798.1 943.2h0M798.3 938.1h0M798.4 931.7h0M798.6 925.2h0M798.7 920.4h0M798.6 916.3h0M798.5 911.9h0M798.7 908.3h0M798.7 905h0M798.6 901h0M798.7 898h0M798.7 894.8h0M797.5 939.8h0M797.4 934.3h0M797.6 927.9h0M797.4 921.7h0M797.6 915.3h0M797.6 909.5h0M797.5 903.8h0M797.5 898.7h0M797.5 893.7h0M797.6 887.5h0M797.6 881.1h0M797.6 875.7h0M797.6 870h0M797.5 864.2h0M797.7 858.1h0M797.7 852.8h0M797.5 847.9h0M797.6 842.5h0M797.6 835.9h0M817.2 939.2h0M817.6 934.3h0M817.5 927.8h0M817.7 922.5h0M817.8 917.7h0M817.6 913.2h0M817.9 909.1h0M817.7 904.9h0M817.7 901.5h0M817.9 897.5h0M817.9 893.9h0M817.9 891.1h0M817.9 888h0M816.6 933.7h0M816.8 927.1h0M816.6 920.5h0M816.6 915.1h0M816.8 910.1h0M816.7 903.7h0M816.7 897.2h0M816.6 891.7h0M816.8 886.6h0M816.6 881.2h0M816.6 875.5h0M816.6 870.1h0M816.7 863.8h0M816.8 858.3h0M816.8 852.4h0M816.6 846.3h0M816.7 840.6h0M816.7 834.3h0M816.7 828h0M835.6 934.9h0M835.9 930.3h0M836 924.1h0M836.1 918.5h0M835.9 913.3h0M836.1 907.9h0M836.1 903.7h0M836.2 899.8h0M836.2 895.5h0M836.1 891.6h0M836.2 888.2h0M836.1 884.7h0M835 931.8h0M835.2 926.3h0M835 920.4h0M835 913.7h0M835.1 907.9h0M835.1 901.5h0M835 895.3h0M834.9 889.7h0M835.1 883.1h0M835 876.8h0M835.1 870.9h0M834.9 864.9h0M835.2 859h0M835 853.5h0M835.1 848h0M834.9 841.4h0M835 836.1h0M835.1 830.5h0M835 825.1h0M854.4 930.9h0M854.6 925.7h0M854.6 918.9h0M854.7 913.3h0M854.8 908.5h0M854.9 902.8h0M854.9 898h0M854.8 893.7h0M854.9 889.5h0M855.1 885.5h0M855 882.2h0M855 878.7h0M855.1 875.8h0M853.9 925.5h0M853.9 918.9h0M853.8 912.6h0M853.9 907h0M853.8 901.7h0M853.9 895.2h0M853.8 889h0M853.8 883.1h0M853.8 876.9h0M854 870.6h0M853.9 865.1h0M853.8 858.6h0M854 852.6h0M853.9 847.5h0M853.9 842.1h0M853.9 835.3h0M853.9 830h0M853.9 823.9h0M853.9 817.9h0M873.4 926.7h0M873.8 922.2h0M873.6 915.9h0M873.7 910.1h0M873.8 905.2h0M873.9 900h0M873.8 895.3h0M874 891.1h0M873.9 886.3h0M874.1 882.7h0M873.9 879.2h0M874.1 876.2h0M874 872.7h0M872.8 921.5h0M872.8 914h0M872.9 907.2h0M872.8 899.9h0M872.9 893.7h0M873 887.9h0M873 881.6h0M872.8 875.4h0M872.8 869.3h0M872.7 863.3h0M872.8 856.3h0M872.8 850.2h0M872.8 843.6h0M872.9 836.8h0M873 830.4h0M872.7 823.1h0M873 815.9h0M891.5 922.4h0M891.9 917.7h0M891.7 911.3h0M892 904.4h0M892 899.3h0M892 893.9h0M892.1 888.7h0M892.1 883.9h0M892.1 880.1h0M892.1 876.2h0M892.2 872.8h0M892 869.4h0M892 866.5h0M890.9 918.5h0M890.9 912.1h0M891 904.9h0M890.8 896.9h0M890.9 889h0M891 881.7h0M890.9 873.7h0M891.1 866.7h0M891 860.4h0M890.8 852.9h0M891 845.5h0M890.9 837.4h0M891 829.1h0M891.1 821.9h0M891 815.7h0M890.9 808.3h0M910.4 917.9h0M910.8 912.5h0M910.8 906.3h0M910.8 900.3h0M910.8 895h0M910.9 888.9h0M910.8 883.6h0M910.8 879.3h0M911 875h0M910.8 870.8h0M911.1 867h0M910.9 863.6h0M910.9 860.6h0M909.9 910.4h0M909.9 902.2h0M909.9 893.4h0M909.9 885.4h0M909.9 877.1h0M909.8 868.9h0M909.8 860.7h0M909.7 852.3h0M909.7 845.2h0M910 836.8h0M909.8 828.6h0M909.9 820.1h0M909.8 812.1h0M909.8 804.8h0M928.5 913.9h0M928.6 908.7h0M928.9 902.3h0M929 895.3h0M928.9 889.7h0M929 885h0M928.9 880.5h0M928.8 876.5h0M928.9 871.9h0M928.9 867.3h0M929 863.2h0M929.2 860.3h0M929.2 857.4h0M929 854.5h0M928.1 906.7h0M927.8 897.7h0M928 889h0M928.1 880.6h0M928.1 872.9h0M927.8 863.9h0M928 856.7h0M927.8 847.5h0M928 839.6h0M928.1 832.1h0M927.8 823.7h0M928 815.6h0M928 807.4h0M928 799.9h0M946.5 908.9h0M946.7 903.5h0M947 897.7h0M947 891.1h0M946.9 885.6h0M947 879.4h0M946.9 874.3h0M947.1 869.8h0M947.1 865.7h0M947.2 861.5h0M947 857.5h0M947 854.5h0M947.1 851.3h0M947.2 847.8h0M946 900.6h0M946 890.6h0M946.1 882.2h0M946 872.4h0M945.9 862.3h0M946 854.4h0M945.9 844.6h0M946.1 834.9h0M946 826.6h0M945.9 817.2h0M945.9 808.9h0M946 799.3h0M945.8 790.4h0M964.5 904.1h0M964.7 898.7h0M964.7 892.6h0M964.8 886.1h0M964.9 880.2h0M964.8 874.8h0M965.1 870.5h0M964.9 866h0M965.1 861.5h0M965.1 857.8h0M965.1 854.2h0M964.9 851.2h0M965.2 847.3h0M965.1 844.2h0M965.2 841.2h0M964 894.8h0M964.1 884.2h0M963.8 875.3h0M963.9 866.6h0M963.8 858.2h0M964.1 848.4h0M964.1 839h0M963.8 828.2h0M963.9 818.3h0M964.1 809.8h0M964 800.9h0M964.1 790.9h0M982.5 898.9h0M982.9 892.8h0M982.7 885.5h0M982.9 878.9h0M983.1 873h0M982.8 868.5h0M983.1 863.2h0M982.9 858.5h0M983.1 854.1h0M983 850.7h0M983 847.3h0M983 843.9h0M983 840.9h0M983 837.5h0M981.8 892.8h0M981.9 881.2h0M982.1 869.7h0M981.8 858.3h0M981.8 848.3h0M982.1 836.8h0M981.9 826.2h0M982 816.5h0M982 806.3h0M981.9 797.2h0M982 788.4h0M999.8 893.9h0M999.9 888.9h0M1000 882.3h0M1000 875.4h0M1000 868.8h0M1000.2 862.9h0M1000.2 858.5h0M1000.2 854.2h0M1000.2 850.3h0M1000.5 845.7h0M1000.2 841.6h0M1000.5 838.4h0M1000.4 835.7h0M1000.5 832.6h0M999.2 884.1h0M999.1 874.5h0M999.2 862.6h0M999.2 852.8h0M999.1 840.7h0M999.1 829.6h0M999.3 819.9h0M999.1 808.4h0M999.1 798.9h0M999.2 787.8h0M999.1 777.7h0M1017.5 889.1h0M1017.7 883.4h0M1017.8 876.2h0M1018 869.4h0M1017.8 863.8h0M1017.9 857.9h0M1017.9 852.5h0M1018.1 848.5h0M1017.9 844.4h0M1018.1 840.7h0M1018.1 837.6h0M1018.1 834.2h0M1018.2 831.3h0M1018.2 827.8h0M1016.9 879.3h0M1016.8 867.1h0M1017.1 854.4h0M1017 843h0M1017 831.5h0M1017.1 821.8h0M1016.9 811.3h0M1016.9 801.3h0M1016.8 788.8h0M1017 778.8h0M1016.8 768.4h0M1034.5 883.9h0M1034.8 879.4h0M1034.8 872.7h0M1034.8 867.2h0M1034.9 862h0M1034.8 855.9h0M1035 850.7h0M1035.1 846.5h0M1035 841.5h0M1035.1 837.5h0M1035 833.7h0M1035.2 829.7h0M1035 826.6h0M1035.1 823.5h0M1034.1 873h0M1034.1 859.9h0M1034 849.5h0M1034.1 835.8h0M1033.9 824.8h0M1033.9 812.3h0M1033.8 800.2h0M1034 788.4h0M1033.8 778.1h0M1034 764.4h0M1052.5 879.1h0M1052.7 873.5h0M1053 866.8h0M1052.8 860.4h0M1052.9 854.7h0M1052.9 848.6h0M1053 844h0M1053 840h0M1053 835.1h0M1053 831.4h0M1053 827.7h0M1053 824.6h0M1053.1 821.6h0M1053 818.6h0M1052.1 869.7h0M1052 857.1h0M1051.9 844.3h0M1051.9 831.3h0M1052 819h0M1051.9 806.9h0M1051.9 795.6h0M1051.9 783.4h0M1051.8 770.9h0M1052.1 759.2h0M1069.5 873.2h0M1069.9 868.9h0M1069.7 862.3h0M1069.8 856.2h0M1069.8 850h0M1070.1 845.1h0M1069.9 839.6h0M1069.9 835.2h0M1070.1 830.6h0M1070.1 826.1h0M1070.1 822.3h0M1070.2 818.6h0M1070.2 815.4h0M1070.2 812h0M1068.8 861.6h0M1069 848.2h0M1069.1 835.8h0M1068.9 823.2h0M1069.1 809.7h0M1068.9 796.9h0M1068.9 784.7h0M1068.9 771.4h0M1069 759.5h0M1086.4 868h0M1086.7 863.5h0M1086.6 856.6h0M1086.7 849.6h0M1086.9 843.3h0M1086.8 837.3h0M1087 832.5h0M1086.8 828.6h0M1086.9 824.3h0M1087 819.8h0M1087.1 816.1h0M1087 812.7h0M1087 809.3h0M1087 806.2h0M1085.9 855.7h0M1085.7 843h0M1085.8 830.9h0M1085.9 818.1h0M1086 804h0M1085.8 791.5h0M1086 778.4h0M1085.9 766.4h0M1085.8 752.6h0M1103.5 862h0M1103.9 855.7h0M1103.7 849.3h0M1103.9 843.6h0M1103.8 837.8h0M1104 833h0M1103.9 827.9h0M1104 822.5h0M1104 818.8h0M1104 814.5h0M1103.9 810.6h0M1104.2 807.3h0M1104.2 804h0M1104.1 801.1h0M1103 853.9h0M1103.1 841h0M1102.9 827.9h0M1102.8 816.5h0M1102.8 802.7h0M1102.9 791.5h0M1103 778.6h0M1103 765.4h0M1102.8 754.2h0M1102.9 740.4h0M1119.5 856.4h0M1119.8 850.3h0M1119.8 842.8h0M1119.8 836.5h0M1120 831.7h0M1119.9 825.8h0M1120.1 820.3h0M1120 816.1h0M1120 811.3h0M1120 806.9h0M1120.2 803.4h0M1120 800.3h0M1120.1 796.8h0M1120 793.3h0M1118.9 847.5h0M1118.9 832.7h0M1118.8 819.4h0M1118.9 806.3h0M1118.8 793.7h0M1119 782.2h0M1118.9 769.7h0M1118.9 757.9h0M1118.8 746h0M1136.5 849.9h0M1136.7 845.3h0M1136.8 838.2h0M1136.8 831.1h0M1136.9 824.7h0M1136.9 819.9h0M1137 815.5h0M1137.1 811.2h0M1137 806.8h0M1137.1 803.1h0M1137.2 799.6h0M1137.1 796.5h0M1137 793.2h0M1137.1 789.7h0M1135.9 839.5h0M1135.8 826.7h0M1136.1 814.8h0M1136 802.3h0M1136 790.7h0M1136 778h0M1135.8 765.6h0M1135.9 753.2h0M1136 741.5h0M1135.9 729.1h0M1152.5 844.2h0M1152.7 838.6h0M1152.9 832.2h0M1152.8 825.6h0M1152.9 819.3h0M1152.8 813.9h0M1153.1 809.6h0M1153.1 804.7h0M1152.9 801h0M1153 797.4h0M1153 793.9h0M1153 790.9h0M1153 787.5h0M1153.1 784h0M1151.9 835.8h0M1151.9 821.7h0M1152.1 810.3h0M1151.9 795.7h0M1152.1 784.2h0M1151.8 770.4h0M1151.8 758h0M1151.9 743.4h0M1152 728.3h0M1169.4 838.9h0M1169.8 833.8h0M1169.8 826.7h0M1169.8 820h0M1169.7 814.4h0M1169.8 808.8h0M1170 803.9h0M1170 799.9h0M1170 796.2h0M1169.9 791.8h0M1170.1 788.1h0M1170 784.5h0M1169.9 781.6h0M1170 778.5h0M1168.7 829.9h0M1168.9 815.5h0M1168.8 803h0M1168.8 789.3h0M1168.8 773.9h0M1169 761.1h0M1168.9 749h0M1168.9 736.1h0M1168.9 722.3h0M1185.5 832.4h0M1185.7 828h0M1185.9 821.9h0M1185.7 815.8h0M1185.9 810.3h0M1185.8 805h0M1185.8 800.6h0M1186.1 795.2h0M1186.1 791.3h0M1186.1 786.7h0M1186.1 783.3h0M1186 779.9h0M1186 776.6h0M1186.1 772.9h0M1185 819h0M1184.9 806.2h0M1184.8 793.9h0M1185.1 779h0M1184.9 766h0M1185.1 751.7h0M1184.9 736.1h0M1185 721.1h0M1201.5 826.1h0M1201.8 820.7h0M1201.9 813.5h0M1202 806.6h0M1201.9 801h0M1201.9 796.3h0M1201.9 791.3h0M1201.9 786.6h0M1202.2 782.5h0M1201.9 779h0M1202 775.5h0M1202 771.8h0M1202.2 768.3h0M1202.1 764.8h0M1201 814.5h0M1200.9 800.8h0M1201 787.1h0M1201.1 771.7h0M1200.9 759.1h0M1201 745.3h0M1200.9 732h0M1200.9 719.7h0M1201.1 705.9h0M1217.5 818.9h0M1217.7 813.4h0M1217.9 807.2h0M1217.8 801.9h0M1217.9 795.9h0M1218 791.3h0M1218 786.5h0M1218 782h0M1218 777.6h0M1218 774h0M1218.1 769.8h0M1218.2 766.7h0M1218 763.7h0M1218 760.5h0M1216.9 808.2h0M1216.8 794.3h0M1217 780.5h0M1216.9 768.6h0M1216.9 756.7h0M1217 741.5h0M1217 727h0M1217.1 714.9h0M1216.8 700.3h0M1232.5 813.2h0M1232.8 807.7h0M1232.9 800.5h0M1232.9 793.9h0M1233 787.7h0M1233 783.2h0M1233.1 778.7h0M1233.1 774h0M1233 770.3h0M1233.2 766.2h0M1233 762.4h0M1233 758.9h0M1233.2 755.7h0M1233.2 752.9h0M1231.9 804.8h0M1232.1 791.7h0M1231.8 778.1h0M1231.8 766.6h0M1231.9 752.1h0M1231.9 738.6h0M1231.9 724.5h0M1232.1 712.6h0M1232 699.1h0M1248.5 807.2h0M1248.7 802.2h0M1248.8 795.2h0M1248.9 788.6h0M1248.9 783.9h0M1249.1 779.2h0M1248.8 774.2h0M1249 770.2h0M1249 766h0M1249 762.2h0M1249.1 759h0M1249 755.7h0M1249.2 752.5h0M1249 749.7h0M1247.9 798.9h0M1247.9 785.9h0M1248 772.7h0M1248.1 757.9h0M1248 746.7h0M1248.1 732.6h0M1248 718.6h0M1247.9 705h0M1248 692.9h0M1264.5 800.1h0M1264.7 796h0M1265 790h0M1264.8 784.1h0M1264.8 779h0M1264.8 774h0M1265.1 769.8h0M1265 765.3h0M1265 760.9h0M1264.9 757.2h0M1265 753.7h0M1265.1 749.9h0M1265.1 746.1h0M1265.1 742.5h0M1264 792.6h0M1263.9 778.1h0M1263.9 764.4h0M1263.8 750.3h0M1264.1 737.7h0M1263.9 725.9h0M1263.8 715.1h0M1264 703.3h0M1263.9 691.7h0M1264 680.2h0M1279.4 793.2h0M1279.7 787.8h0M1279.8 781.9h0M1279.6 776.4h0M1279.7 771.1h0M1279.8 765.8h0M1279.9 761.1h0M1279.9 756.9h0M1280 753.4h0M1280.1 749.3h0M1280 746.1h0M1279.9 742.4h0M1279.9 739.5h0M1280.1 736.7h0M1280.1 733.9h0M1278.9 783.7h0M1278.9 771.2h0M1278.8 758.5h0M1278.8 745.2h0M1278.9 732.1h0M1278.8 718.8h0M1279 705.4h0M1278.8 693.3h0M1279 680.8h0M1294.5 786.4h0M1294.8 782.2h0M1294.7 775.3h0M1294.9 770.4h0M1295 765.4h0M1295 760.3h0M1295 755.7h0M1294.9 751.3h0M1294.9 746.6h0M1294.9 742.4h0M1295 738.6h0M1295 734.8h0M1295.1 731.5h0M1295.2 727.9h0M1293.9 779h0M1293.9 767.9h0M1293.9 756.8h0M1294 743.9h0M1294.1 732.6h0M1294 721.6h0M1294.1 710.9h0M1293.9 697.5h0M1294 684.6h0M1293.9 673.4h0M1309.4 779.7h0M1309.6 775.9h0M1309.6 768.9h0M1309.7 762.6h0M1309.7 757h0M1309.9 752.5h0M1309.8 748.5h0M1310 743.5h0M1310.1 738.9h0M1309.9 735.6h0M1310 731.7h0M1310 728.8h0M1310 725.8h0M1309.9 723h0M1309 772h0M1308.8 761.7h0M1308.8 751.3h0M1308.9 740.7h0M1308.9 730.3h0M1308.7 718.6h0M1308.8 707.5h0M1308.8 694.4h0M1309 683.7h0M1308.9 670.7h0M1324.5 772.4h0M1324.7 767.9h0M1324.7 762.1h0M1324.7 755.7h0M1325 750.3h0M1325 745.8h0M1324.9 741.3h0M1324.9 737.4h0M1325.1 732.8h0M1324.9 728.5h0M1325 724.7h0M1325.1 721.1h0M1325.2 718.1h0M1325.2 715.4h0M1324 763.8h0M1323.9 750.8h0M1324 739h0M1324 728.1h0M1324 717.1h0M1324 705.4h0M1324 694.7h0M1323.9 683.2h0M1323.9 671.5h0M1323.9 658.7h0M1339.5 765.1h0M1339.7 759.9h0M1339.7 754.7h0M1339.8 749.9h0M1339.9 744.2h0M1339.8 739.4h0M1340.1 734.9h0M1340 730.3h0M1340.1 726.2h0M1339.9 722.1h0M1340 718.2h0M1340 714.8h0M1340.1 711.7h0M1340 708.7h0M1338.8 756.5h0M1339 746.5h0M1338.9 736.3h0M1339.1 726.1h0M1339 716.5h0M1338.9 704.3h0M1339 693.5h0M1338.9 682.1h0M1338.9 672.7h0M1339 662.1h0M1354.5 757.9h0M1354.6 752.9h0M1354.8 747h0M1355 741.7h0M1354.9 736.7h0M1354.9 731.3h0M1355 726.8h0M1355.1 722.1h0M1355 717.9h0M1355.1 714.6h0M1355.2 711h0M1355 707.3h0M1355 704.4h0M1355 700.9h0M1354 748.5h0M1354 739.3h0M1353.9 727.9h0M1354 718.7h0M1354 708.3h0M1354 696h0M1353.8 684.2h0M1354 674h0M1354.1 664.9h0M1353.9 655h0M1368.5 751h0M1368.8 746.9h0M1368.8 741.4h0M1368.8 736.3h0M1368.8 730.7h0M1369 725.6h0M1368.9 721h0M1369 716.1h0M1368.9 711.7h0M1369.1 708h0M1369.2 704.9h0M1369.1 701.9h0M1369.2 699h0M1369.2 695.7h0M1368 742.4h0M1367.9 732.7h0M1367.8 721.3h0M1367.9 709.6h0M1367.8 700.5h0M1368.1 689.3h0M1368 679.3h0M1368.1 669.7h0M1367.8 658.8h0M1368 649.8h0M1383.5 742.6h0M1383.9 737.4h0M1383.8 731.8h0M1383.9 726.8h0M1384 721.8h0M1383.9 717.7h0M1384 712.7h0M1383.9 708.4h0M1383.9 704.8h0M1384.1 700.5h0M1384.2 697.2h0M1384.1 694.3h0M1384.1 690.5h0M1384.1 686.9h0M1382.9 735.9h0M1383 726.7h0M1383 717.7h0M1382.8 708.3h0M1382.8 698.1h0M1383 687.9h0M1382.9 677.6h0M1383 669h0M1383 660.2h0M1383 651.4h0M1382.9 641.8h0M1397.5 734.9h0M1397.8 730.5h0M1397.9 725.4h0M1397.8 720.7h0M1397.8 716.4h0M1397.9 711.6h0M1397.8 706.6h0M1397.9 702.2h0M1398.1 698h0M1397.9 693.9h0M1398.1 690.5h0M1398 686.5h0M1398.2 683.1h0M1398.1 679.6h0M1397.1 727.8h0M1397.1 719.5h0M1396.9 710.1h0M1396.9 701.7h0M1397 691.3h0M1396.9 682.7h0M1396.9 674h0M1396.9 665.2h0M1397.1 654.1h0M1396.9 643.6h0M1397 634h0M1411.5 727h0M1411.9 723.4h0M1411.7 717.5h0M1411.8 711.9h0M1411.9 707.4h0M1411.9 703.2h0M1412 698.2h0M1412 693.7h0M1412.1 689.3h0M1412.2 685.3h0M1412 681.4h0M1412.1 678.4h0M1412.1 674.8h0M1412.2 671.5h0M1410.9 722.3h0M1410.8 714.3h0M1410.9 704.1h0M1410.9 694.5h0M1410.9 685.6h0M1411.1 676.7h0M1410.9 667h0M1410.9 658.9h0M1410.9 649h0M1411 639.2h0M1411 630.9h0M1411 622.9h0M1425.5 718.9h0M1425.7 714.5h0M1425.8 709h0M1425.8 703.2h0M1425.9 698.2h0M1425.9 693.8h0M1426.1 689.2h0M1425.9 685.1h0M1425.9 680.6h0M1426.1 676.5h0M1426.1 672.9h0M1426.2 669.2h0M1426.2 665.8h0M1426 663h0M1425.1 710.1h0M1425 702h0M1424.8 692.8h0M1425 684.1h0M1424.9 674.7h0M1424.9 665h0M1424.9 655.9h0M1425 645.6h0M1425 635.8h0M1425.1 627.1h0M1425 617.5h0M1439.5 710.1h0M1439.7 706.3h0M1439.8 700.5h0M1439.9 695.4h0M1439.8 690.2h0M1440 685.8h0M1439.9 681.4h0M1439.9 677h0M1439.9 672.7h0M1440.1 668.6h0M1440.2 665.2h0M1440 662h0M1440.1 659.1h0M1440.2 655.7h0M1438.8 702.1h0M1439 693.7h0M1439 683.6h0M1439 674.2h0M1439.1 665.5h0M1438.9 656h0M1439 647.4h0M1438.9 638.9h0M1439 629h0M1439 620.1h0M1438.8 610.1h0M1452.5 702.4h0M1452.7 698.7h0M1452.9 694h0M1452.9 688.2h0M1452.9 683.5h0M1453 679.5h0M1452.8 675.3h0M1452.9 670.9h0M1452.9 667.1h0M1453 663.3h0M1452.9 659.2h0M1453 655.4h0M1453.1 652.3h0M1453 649.2h0M1453 646h0M1452.1 697h0M1452 687.5h0M1452 679.9h0M1452 672.4h0M1451.8 663.8h0M1452 654.7h0M1451.9 645.7h0M1452 636.9h0M1452.1 628.8h0M1452 618.7h0M1451.9 608.7h0M1466.5 693.2h0M1466.6 689.4h0M1466.8 684.6h0M1466.9 678.9h0M1466.8 674.1h0M1466.8 670h0M1466.9 665.2h0M1467.1 660.4h0M1467 656h0M1466.9 651.9h0M1467.1 648.7h0M1467 645.2h0M1467 642.2h0M1467.2 638.6h0M1465.9 684.6h0M1465.9 675.3h0M1466.1 665.9h0M1465.8 658.2h0M1466 650.2h0M1465.8 641.9h0M1466 632.4h0M1465.8 623.8h0M1466 614.1h0M1465.9 606.6h0M1479.6 683.9h0M1479.7 680.5h0M1480 675.6h0M1480 670.9h0M1480 665.3h0M1479.9 660.1h0M1479.9 656.2h0M1480 651.6h0M1480.2 647h0M1480.2 643.6h0M1480.2 640.3h0M1480.3 637.2h0M1480.3 633.5h0M1480.3 630.7h0M1480.3 627.5h0M1479.1 676.9h0M1478.9 667.6h0M1479.1 660.2h0M1479 652.2h0M1479.1 644.9h0M1479.1 637.5h0M1479 628.2h0M1479.1 620.6h0M1479 612.8h0M1479.2 605.2h0M1479 596.6h0M1493.4 674.9h0M1493.6 671h0M1493.9 665.8h0M1493.9 660.5h0M1493.9 655.2h0M1493.9 650h0M1493.8 645.9h0M1493.7 641.8h0M1494 638.2h0M1493.9 633.9h0M1494 630h0M1494.1 626.1h0M1493.9 622.9h0M1493.9 619.3h0M1492.9 669.1h0M1492.7 659.5h0M1492.9 650.9h0M1493 642.4h0M1493 634.2h0M1493 625.3h0M1492.8 617.8h0M1493 609.9h0M1492.8 602.7h0M1493 593.7h0M1492.8 586.1h0M1506.5 665.7h0M1506.8 661.4h0M1506.7 656.6h0M1507 652.2h0M1506.9 647.5h0M1506.8 642.7h0M1506.8 638.8h0M1506.9 634.1h0M1507 629.5h0M1506.9 625.4h0M1507 621.5h0M1507.1 618.1h0M1507 615.2h0M1507 611.7h0M1507.2 608.6h0M1505.9 660.7h0M1505.9 652.7h0M1505.9 644h0M1505.8 634.7h0M1506.1 626h0M1505.8 618.3h0M1505.8 610.1h0M1506 601.9h0M1505.8 594.6h0M1505.9 586.3h0M1505.9 578.7h0M1519.4 655.7h0M1519.8 651.4h0M1519.6 646.8h0M1519.7 642.4h0M1519.7 638h0M1519.8 633h0M1519.8 628h0M1519.7 623.5h0M1519.8 618.9h0M1519.9 615.2h0M1520 611h0M1520 607.1h0M1520.1 604.1h0M1520.1 601.2h0M1519 650.7h0M1518.8 642.9h0M1518.9 635h0M1518.8 628h0M1518.9 620.6h0M1518.9 613.6h0M1518.8 606h0M1518.9 597.6h0M1518.8 590.3h0M1519 583h0M1518.7 575.6h0M1532.4 647h0M1532.7 642.9h0M1532.6 637.1h0M1532.8 632.1h0M1532.8 627h0M1533 622.9h0M1532.8 618.1h0M1533 614h0M1532.9 610.4h0M1533.1 606h0M1533 602.7h0M1533 599.4h0M1532.9 595.8h0M1532.9 592.9h0M1532.9 589.9h0M1531.8 641.3h0M1531.9 634.2h0M1531.9 625h0M1531.9 617.3h0M1531.8 609.3h0M1531.7 601.2h0M1531.7 592.7h0M1532 584.9h0M1532 576.1h0M1531.9 567.7h0M1545.5 636.4h0M1545.7 632.1h0M1545.8 627.3h0M1545.9 622.8h0M1545.8 618.3h0M1545.9 613.8h0M1545.8 609h0M1545.9 604.5h0M1546 600.7h0M1546.1 596.6h0M1546 592.5h0M1546.1 589.2h0M1546 586.1h0M1546.2 583.2h0M1546.2 579.7h0M1544.9 629.2h0M1545 621.6h0M1545 614.7h0M1544.8 607.7h0M1544.8 599.6h0M1545.1 590.6h0M1544.9 582.7h0M1545 575.6h0M1544.9 567.6h0"/>
<path stroke-width="4.2" d="M460.6 873.6h0M460.6 874.4h0M460.6 878.1h0M480.2 861.1h0M480.2 861.9h0M480.2 864.7h0M480.2 867.8h0M480.2 870.6h0M500.4 848.9h0M500.4 849.6h0M500.3 852.7h0M500.4 855.7h0M500.3 856.2h0M500.4 859.2h0M500.4 862.4h0M500.4 866.8h0M520.4 839h0M520.4 839.7h0M520.4 845.5h0M520.5 852.2h0M520.3 856.4h0M520.4 860.6h0M540.4 828.9h0M540.4 829.6h0M540.3 833.8h0M540.4 838.5h0M540.4 844.9h0M540.4 850.1h0M540.4 853.8h0M560.4 819.6h0M560.4 820.4h0M560.5 823.7h0M560.5 828.1h0M560.5 833.2h0M560.4 837.4h0M560.3 842.1h0M560.3 848h0M580.4 810.1h0M580.4 810.9h0M580.4 816.2h0M580.4 820.5h0M580.4 823.5h0M580.4 826.4h0M580.4 830.4h0M580.5 830.4h0M580.5 835.7h0M600.4 802h0M600.4 802.7h0M600.5 808h0M600.5 812.7h0M600.4 816.4h0M600.5 816.6h0M600.4 822.3h0M600.4 826.4h0M620.2 793.6h0M620.2 794.4h0M620.2 799h0M620.3 803.1h0M620.3 807.1h0M620.2 806.9h0M620.2 813.8h0M620.3 818.2h0M640.2 785.1h0M640.2 785.9h0M640.3 791.9h0M640.3 795.9h0M640.3 802.1h0M640.3 806h0M640.2 809.3h0M640.3 810.7h0M660.2 777.9h0M660.2 778.6h0M660.2 782h0M660.3 788.1h0M660.3 794h0M660.2 799.5h0M660.3 804.1h0M679.4 770.9h0M679.4 771.6h0M679.5 775.4h0M679.3 778.5h0M679.5 780.5h0M679.5 786.7h0M679.3 791.6h0M699.4 763.6h0M699.4 764.4h0M699.5 768.1h0M699.5 774.7h0M699.4 779.6h0M699.3 786h0M719.1 755.9h0M719.1 756.6h0M719 762.9h0M719 768.9h0M719 773.3h0M719.1 779.1h0M738.4 750.6h0M738.4 751.4h0M738.5 755.9h0M738.3 762.6h0M738.4 767.3h0M758.1 743h0M758.1 743.7h0M758.2 747.5h0M758.1 751.7h0M758.2 756.2h0M758 763h0M777.2 737h0M777.2 737.7h0M777.3 741.5h0M777.2 744.6h0M777.3 747.7h0M777.2 753.1h0M796.2 729.9h0M796.2 730.6h0M796.2 737h0M796.3 740.6h0M796.3 743.4h0M796.3 749.1h0M815.4 724h0M815.4 724.7h0M815.3 731.1h0M815.3 735.8h0M815.5 739.8h0M815.4 739.9h0M834.4 717h0M834.4 717.7h0M834.4 724.6h0M834.5 727.7h0M834.5 730h0M853.4 711.1h0M853.4 711.9h0M853.4 717.2h0M853.4 722.1h0M871.4 705h0M871.4 705.7h0M871.5 709.7h0M871.3 714h0M871.4 720.5h0M890.4 698.6h0M890.4 699.4h0M890.4 704.2h0M890.3 711.3h0M908.4 692h0M908.4 692.7h0M908.4 697.9h0M908.4 702.3h0M908.5 707h0M927.2 684.9h0M927.2 685.6h0M927.3 691.6h0M927.3 697.3h0M945.2 678.6h0M945.2 679.4h0M945.2 685.9h0M945.3 693.6h0M963.4 672h0M963.4 672.7h0M963.4 677.9h0M963.5 681.9h0M963.3 683.1h0M981 665.8h0M981 666.5h0M981.1 670.8h0M980.9 676.8h0M998.5 659.6h0M998.5 660.4h0M998.6 666.8h0M998.4 672.1h0M1016.4 653.3h0M1016.4 654h0M1016.4 660h0M1016.5 664.9h0M1033.5 646.1h0M1033.5 646.9h0M1033.6 653.2h0M1033.4 661.2h0M1050.5 639h0M1050.5 639.7h0M1050.5 646h0M1050.5 654.8h0M1068.2 632h0M1068.2 632.7h0M1068.3 638.3h0M1068.2 645.4h0M1085 625.2h0M1085 625.9h0M1085.1 634.7h0M1085.1 640.3h0M1101.5 617h0M1101.5 617.7h0M1101.4 624h0M1101.6 629.7h0M1101.5 636.7h0M1118.5 609.9h0M1118.5 610.6h0M1118.4 617.1h0M1118.5 623h0M1118.5 629.2h0M1135.4 602h0M1135.4 602.7h0M1135.5 611.5h0M1135.4 617.9h0M1151.5 594h0M1151.5 594.7h0M1151.5 603.5h0M1151.5 613.6h0M1167.8 585.8h0M1167.8 586.5h0M1167.8 595.4h0M1167.8 605.6h0M1167.7 608.9h0M1184.4 577h0M1184.4 577.7h0M1184.3 585.1h0M1184.4 593.1h0M1184.5 601.5h0M1200.2 568h0M1200.2 568.7h0M1200.3 579.4h0M1200.3 589.3h0M1200.3 592.9h0M1200.3 597.5h0M1216.2 559.3h0M1216.2 560h0M1216.2 568.3h0M1216.3 578.2h0M1216.3 581.3h0M1216.2 586.3h0M1216.3 589.5h0M1231.5 549.9h0M1231.5 550.6h0M1231.4 562.4h0M1231.5 570.2h0M1231.4 581.9h0M1231.6 585.6h0M1247.5 539.9h0M1247.5 540.6h0M1247.5 552.7h0M1247.5 564.5h0M1247.5 575.5h0M1263.4 529h0M1263.4 529.7h0M1263.3 540.4h0M1263.4 553.7h0M1263.5 557.6h0M1263.3 563.1h0M1263.4 567h0M1263.5 574.5h0M1278.4 519h0M1278.4 519.7h0M1278.4 526.6h0M1278.4 539h0M1278.5 548h0M1278.3 551.1h0M1278.4 555.9h0M1278.5 564.6h0M1293.4 508.9h0M1293.4 509.6h0M1293.3 522.5h0M1293.4 534.1h0M1293.3 547.7h0M1293.5 557.7h0M1293.5 566.6h0M1308.5 497.8h0M1308.5 498.5h0M1308.5 506.7h0M1308.4 510.2h0M1308.5 517.2h0M1308.5 525h0M1308.5 536.3h0M1308.6 550.6h0M1308.5 561h0M1323.4 486.8h0M1323.4 487.5h0M1323.4 498.1h0M1323.3 502h0M1323.4 509.4h0M1323.3 522.6h0M1323.5 526h0M1323.5 534.6h0M1323.3 548.2h0M1338.5 475.1h0M1338.5 475.8h0M1338.5 485.7h0M1338.5 495.9h0M1338.4 509.9h0M1338.5 522.5h0M1338.4 532.5h0M1338.5 542.9h0M1353.4 463.9h0M1353.4 464.6h0M1353.5 473.5h0M1353.4 484.8h0M1353.4 488.6h0M1353.5 498h0M1353.3 507.2h0M1353.4 517.6h0M1353.4 529.4h0M1353.5 538.6h0M1367.5 450.9h0M1367.5 451.6h0M1367.5 464.5h0M1367.5 467.8h0M1367.4 476.1h0M1367.6 486.2h0M1367.6 490.2h0M1367.4 496.8h0M1367.4 509h0M1367.5 517.5h0M1367.5 528.3h0M1367.6 531.5h0M1382.5 438h0M1382.5 438.7h0M1382.4 447h0M1382.6 457.2h0M1382.4 468.4h0M1382.6 471.6h0M1382.5 479.7h0M1382.5 482.9h0M1382.5 491.3h0M1382.5 500.6h0M1382.4 503.8h0M1382.5 514.5h0M1382.6 522.5h0M1396.4 427h0M1396.4 427.7h0M1396.4 440.1h0M1396.4 444h0M1396.3 453.5h0M1396.3 463.8h0M1396.4 476.4h0M1396.5 480.3h0M1396.4 490.5h0M1396.4 504h0M1396.5 517.6h0M1396.5 527.6h0M1410.4 414h0M1410.4 414.7h0M1410.5 423.9h0M1410.5 433.4h0M1410.4 447.6h0M1410.4 462.1h0M1410.5 471.5h0M1410.4 474.5h0M1410.5 480.7h0M1410.4 494.2h0M1410.4 502.9h0M1410.4 514.5h0M1424.4 401.1h0M1424.4 401.8h0M1424.4 410.3h0M1424.4 423.8h0M1424.4 427.7h0M1424.4 433h0M1424.4 436.1h0M1424.4 443.1h0M1424.3 457.8h0M1424.3 472.4h0M1424.3 483.4h0M1424.4 494.2h0M1424.3 504.1h0M1424.5 515.3h0M1438.4 388.3h0M1438.4 389h0M1438.4 396.8h0M1438.4 410.8h0M1438.4 421.7h0M1438.5 435.7h0M1438.4 444.8h0M1438.5 456.4h0M1438.5 469.6h0M1438.3 483.8h0M1438.4 496.8h0M1438.4 505.3h0M1451.5 374.3h0M1451.5 375h0M1451.5 382.9h0M1451.5 386.6h0M1451.5 396h0M1451.5 405.4h0M1451.5 414.9h0M1451.4 426.1h0M1451.5 435.6h0M1451.6 448.6h0M1451.6 463.3h0M1451.4 476.5h0M1451.4 480.4h0M1451.5 489.6h0M1451.4 500.3h0M1465.5 359.1h0M1465.5 359.8h0M1465.5 373.5h0M1465.4 383.1h0M1465.4 393.9h0M1465.4 403h0M1465.5 415.2h0M1465.4 426.5h0M1465.5 435h0M1465.5 447.9h0M1465.5 451.6h0M1465.4 459.4h0M1465.4 471.7h0M1465.6 475h0M1465.6 482.6h0M1465.5 495.2h0M1465.4 499.2h0M1478.7 345.2h0M1478.7 345.9h0M1478.8 358.5h0M1478.7 367.5h0M1478.6 381h0M1478.8 396.1h0M1478.6 399.2h0M1478.7 409.2h0M1478.7 420.6h0M1478.8 433.4h0M1478.8 447.2h0M1478.6 460.4h0M1478.7 474.6h0M1478.8 484.1h0M1478.7 497.3h0M1492.4 330.2h0M1492.4 330.9h0M1492.4 343.3h0M1492.4 353.3h0M1492.4 356.5h0M1492.5 363.4h0M1492.4 375.8h0M1492.4 389h0M1492.3 392h0M1492.3 399.8h0M1492.4 403.7h0M1492.4 412.9h0M1492.3 422.4h0M1492.4 433.5h0M1492.3 446.9h0M1492.5 457.6h0M1492.5 460.8h0M1492.5 471.9h0M1492.3 482.1h0M1492.5 485.2h0M1505.3 313.2h0M1505.3 313.9h0M1505.3 322h0M1505.3 336.9h0M1505.2 340.6h0M1505.4 349.2h0M1505.2 363.6h0M1505.2 375.6h0M1505.4 378.8h0M1505.3 384.4h0M1505.3 396h0M1505.3 399.3h0M1505.3 405.7h0M1505.4 414.9h0M1505.2 424.4h0M1505.2 436.4h0M1505.3 449.9h0M1505.3 453.5h0M1505.2 462.8h0M1505.3 477.8h0M1505.4 488.7h0M1518.6 297.2h0M1518.6 297.9h0M1518.7 309.7h0M1518.5 312.8h0M1518.6 322.2h0M1518.6 336.8h0M1518.6 352h0M1518.5 363.2h0M1518.5 372.3h0M1518.7 382.7h0M1518.6 394h0M1518.6 408.1h0M1518.5 417.2h0M1518.7 429.7h0M1518.5 444.9h0M1518.7 448.5h0M1518.6 454.5h0M1518.6 464.5h0M1518.5 477.7h0M1531.4 279.1h0M1531.4 279.8h0M1531.3 294.4h0M1531.4 304.9h0M1531.5 317.6h0M1531.3 330.2h0M1531.4 333.9h0M1531.3 340.5h0M1531.3 344.2h0M1531.3 348.9h0M1531.5 362.3h0M1531.3 366.2h0M1531.3 377.6h0M1531.4 389.7h0M1531.4 401.5h0M1531.3 404.7h0M1531.4 410.5h0M1531.5 420.8h0M1531.4 431.6h0M1531.5 435.2h0M1531.3 440.3h0M1531.4 451.4h0M1531.5 455.2h0M1531.4 460.5h0M1531.4 464.3h0M1531.3 474.5h0M1544.4 261h0M1544.4 261.7h0M1544.5 273.2h0M1544.3 276.6h0M1544.4 285.1h0M1544.4 295.1h0M1544.5 308.6h0M1544.5 320.2h0M1544.3 333.1h0M1544.4 346.1h0M1544.5 350h0M1544.4 355.4h0M1544.3 366h0M1544.4 379.9h0M1544.4 383h0M1544.3 395.3h0M1544.3 409.2h0M1544.3 412.3h0M1544.5 421.4h0M1544.3 425.2h0M1544.4 432.9h0M1544.3 436.8h0M1544.4 442.1h0M1544.5 456.9h0M1544.4 472.2h0"/>
</g>
<g stroke="#000" stroke-width="1.11" fill="none">
<path d="M225.5 144.5H1620.5V1068.5H225.5Z"/>
<path d="M378.5 1068.5v5.4M537.5 1068.5v5.4M695.5 1068.5v5.4M854.5 1068.5v5.4M1012.5 1068.5v5.4M1171.5 1068.5v5.4M1330.5 1068.5v5.4M1488.5 1068.5v5.4"/>
<path d="M225.5 200.5h-5.4M225.5 306.5h-5.4M225.5 413.5h-5.4M225.5 520.5h-5.4M225.5 626.5h-5.4M225.5 733.5h-5.4M225.5 840.5h-5.4M225.5 946.5h-5.4M225.5 1053.5h-5.4"/>
</g>
<g font-family="'DejaVu Sans','Liberation Sans',sans-serif" font-size="13.89px" fill="#000">
<text x="354 362 371 375.2 384 392.7" y="1088.6">78.300</text>
<text x="513 521 530 534.2 543 551.7" y="1088.6">78.325</text>
<text x="671 679 688 692.2 701 709.7" y="1088.6">78.350</text>
<text x="830 838 847 851.2 860 868.7" y="1088.6">78.375</text>
<text x="988 996 1005 1009.2 1018 1026.7" y="1088.6">78.400</text>
<text x="1147 1155 1164 1168.2 1177 1185.7" y="1088.6">78.425</text>
<text x="1306 1314 1323 1327.2 1336 1344.7" y="1088.6">78.450</text>
<text x="1464 1472 1481 1485.2 1494 1502.7" y="1088.6">78.475</text>
<text x="189 197 205.7" y="204.6">500</text>
<text x="189 197 205.7" y="311.6">450</text>
<text x="189 197 205.7" y="418.6">400</text>
<text x="189 197 205.7" y="524.6">350</text>
<text x="189 197 205.7" y="631.6">300</text>
<text x="189 197 205.7" y="737.6">250</text>
<text x="189 197 205.7" y="844.6">200</text>
<text x="189 197 205.7" y="951.6">150</text>
<text x="189 197 205.7" y="1057.6">100</text>
<text x="922.5" y="1107.5" text-anchor="middle">star_age (Myr)</text>
<text transform="translate(178.5 606) rotate(-90)" text-anchor="middle">O1 period (days)</text>
</g>
<rect x="235.9" y="154.9" width="306.3" height="91" rx="2.8" ry="2.8" fill="#fff" fill-opacity="0.8" stroke="#ccc" stroke-opacity="0.8" stroke-width="1.39"/>
<path d="M243 171H286" stroke="#000" stroke-width="2.08" fill="none"/>
<circle cx="265.4" cy="171.1" r="2.15" fill="#000"/>
<circle cx="265.5" cy="216.3" r="6.9" fill="#ff0" fill-opacity="0.25" stroke="#ff0" stroke-opacity="0.25" stroke-width="1.39"/>
<g font-family="'DejaVu Sans','Liberation Sans',sans-serif" font-size="20.83px" fill="#000" style="font-kerning:none;font-variant-ligatures:none">
<text x="303.2" y="178.6">m5.00_z0.0050</text>
<text x="302" y="209.9">intersection w/ P,L,T,R</text>
<text x="302" y="233.2">STRICTLY defined</text>
</g>
</svg>
</body></html>
